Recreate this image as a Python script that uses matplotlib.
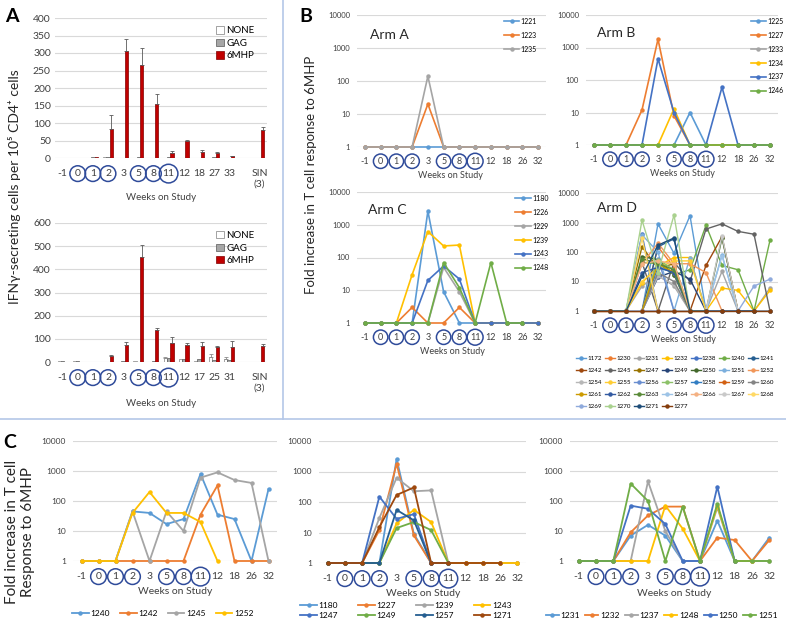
import numpy as np
import matplotlib
matplotlib.use("Agg")
import matplotlib.pyplot as plt
from matplotlib.lines import Line2D
from matplotlib.ticker import NullLocator

plt.rcParams['font.family'] = ['Lato', 'DejaVu Sans']

n = np.nan

# ---- panel A: IFN-gamma ELISpot bars ----
a_top_weeks = ['-1', '0', '1', '2', '3', '5', '8', '11', '12', '18', '27', '33', 'SIN\n(3)']
a_top_none = [1, 0.5, 1, 2, 1, 1, 1, 1, 1, 1, 1, 1, 0]
a_top_gag = [1, 0.5, 2, 3, 1, 2, 1, 2, 1, 1, 2, 1, 1]
a_top_6mhp = [1, 1, 3, 84, 305, 265, 153, 13, 48, 18, 13, 5, 81]
a_top_err = [0, 0, 0, 38, 35, 48, 31, 7, 4, 6, 3, 1, 9]

a_bot_weeks = ['-1', '0', '1', '2', '3', '5', '8', '11', '12', '17', '25', '31', 'SIN\n(3)']
a_bot_none = [3, 5, 2, 1, 2, 5, 1, 18, 13, 4, 20, 15, 0]
a_bot_none_err = [0, 0, 0, 0, 0, 0, 0, 5, 0, 0, 15, 5, 0]
a_bot_gag = [3, 4, 2, 2, 3, 1, 3, 17, 12, 12, 10, 10, 2]
a_bot_6mhp = [1, 1, 1, 25, 73, 453, 137, 83, 73, 70, 65, 65, 68]
a_bot_err = [0, 0, 0, 5, 12, 54, 10, 25, 8, 18, 5, 25, 10]

# ---- panels B/C: fold increase per patient ----
weeks = ['-1', '0', '1', '2', '3', '5', '8', '11', '12', '18', '26', '32']
circled = ['0', '1', '2', '5', '8', '11']

arm_a = {
    '1221': [1, 1, 1, 1, 1, 1, 1, 1, 1, 1, 1, 1],
    '1223': [1, 1, 1, 1, 20, 1, 1, 1, 1, 1, 1, 1],
    '1235': [1, 1, 1, 1, 140, 1, 1, 1, 1, 1, 1, 1],
}
arm_b = {
    '1225': [1, 1, 1, 1, 1, 1, 10, 1, 1, 1, 1, 1],
    '1227': [1, 1, 1, 12, 1800, 8, 1, 1, 1, 1, 1, 1],
    '1233': [1, 1, 1, 1, 1, 1, 1, 1, 1, 1, 1, 1],
    '1234': [1, 1, 1, 1, 1, 13, 1, 1, 1, 1, 1, 1],
    '1237': [1, 1, 1, 1, 450, 10, 1, 1, 60, 1, 1, 1],
    '1246': [1, 1, 1, 1, 1, 1, 1, 1, 1, 1, 1, 1],
}
arm_c = {
    '1180': [1, 1, 1, 1, 2600, 9, 1, 1, 1, 1, 1, 1],
    '1226': [1, 1, 1, 3, 1, 1, 3, 1, 1, 1, 1, 1],
    '1229': [1, 1, 1, 1, 1, 50, 9, 1, 1, 1, 1, 1],
    '1239': [1, 1, 1, 30, 620, 225, 240, 1, 1, 1, 1, 1],
    '1243': [1, 1, 1, 1, 20, 55, 22, 1, 1, 1, 1, 1],
    '1248': [1, 1, 1, 1, 1, 70, 12, 1, 70, 1, 1, n],
}
arm_d = {
    '1172': [1, 1, 1, 1, 900, 90, 1700, 1, n, n, n, n],
    '1230': [1, 1, 1, 1, 150, 30, 1, 1, n, n, n, n],
    '1231': [1, 1, 1, 7, 16, 7, 1, 1, 22, 1, 1, 6],
    '1232': [1, 1, 1, 9, 33, 65, 65, 1, 6, 5, 1, 5],
    '1238': [1, 1, 1, 400, 1, 1, 1, 1, n, n, n, n],
    '1240': [1, 1, 1, 45, 40, 17, 25, 800, 35, 25, 1, 250],
    '1241': [1, 1, 1, 1, 150, 280, 1, 1, n, n, n, n],
    '1242': [1, 1, 1, 1, 1, 1, 1, 35, 330, 1, 1, 1],
    '1245': [1, 1, 1, 45, 1, 45, 10, 600, 900, 500, 400, 1],
    '1247': [1, 1, 1, 150, 28, 40, 1, 1, n, n, n, n],
    '1249': [1, 1, 1, 1, 14, 22, 12, 1, n, n, n, n],
    '1250': [1, 1, 1, 70, 55, 17, 1, 1, 300, 1, n, n],
    '1251': [1, 1, 1, 380, 100, 1, 65, 1, 80, 1, 1, 1],
    '1252': [1, 1, 1, 40, 200, 40, 40, 20, 1, n, n, n],
    '1254': [1, 1, 1, 1, 15, 8, 1, 1, n, n, n, n],
    '1255': [1, 1, 1, 10, 30, 50, 50, 1, n, n, n, n],
    '1256': [1, 1, 1, 1, 60, 1, 1, 1, n, n, n, n],
    '1257': [1, 1, 1, 1, 55, 25, 1, 1, n, n, n, n],
    '1258': [1, 1, 1, 1, 30, 20, 1, 1, n, n, n, n],
    '1259': [1, 1, 1, 1, 1, 1, 1, 1, n, n, n, n],
    '1260': [1, 1, 1, 1, 20, 10, 1, 1, n, n, n, n],
    '1261': [1, 1, 1, 1, 40, 20, 1, 1, n, n, n, n],
    '1262': [1, 1, 1, 20, 30, 20, 1, 1, n, n, n, n],
    '1263': [1, 1, 1, 60, 40, 25, 1, 1, n, n, n, n],
    '1264': [1, 1, 1, 1, 1, 1, 1, 1, 75, 1, n, n],
    '1266': [1, 1, 1, 40, 50, 40, 1, 1, n, n, n, n],
    '1267': [1, 1, 1, 1, 1, 1, 1, 1, 360, 1, n, n],
    '1268': [1, 1, 1, 300, 1, 1, 1, 1, n, n, n, n],
    '1269': [1, 1, 1, 1, 1, 1, 1, 1, 1, 1, 7, 12],
    '1270': [1, 1, 1, 1200, 20, 1800, 1, 1, n, n, n, n],
    '1271': [1, 1, 1, 15, 170, 300, 1, 1, 1, 1, 1, n],
    '1277': [1, 1, 1, 1, 1, 1, 1, 1, 1, 1, 1, 1],
}
c1_ids = ['1240', '1242', '1245', '1252']
c2_ids = ['1180', '1227', '1239', '1243', '1247', '1249', '1257', '1271']
c3_ids = ['1231', '1232', '1237', '1248', '1250', '1251']

excel = ['#5B9BD5', '#ED7D31', '#A5A5A5', '#FFC000', '#4472C4', '#70AD47',
         '#255E91', '#9E480E', '#636363', '#997300', '#264478', '#43682B',
         '#7CAFDD', '#F1975A', '#B7B7B7', '#FFCD33', '#698ED0', '#8CC168',
         '#327DC2', '#D26012', '#848484', '#CC9A00', '#335AA1', '#5A8A39',
         '#9DC3E6', '#F4B183', '#C9C9C9', '#FFD966', '#8FAADC', '#A9D18E',
         '#1F4E79', '#843C0C']

W, H = 786, 627
GRID = '#d9d9d9'
RING = '#2f4b9a'


def box(x0, y0, x1, y1):
    return [x0 / W, 1 - y1 / H, (x1 - x0) / W, (y1 - y0) / H]


def ftext(x, y, s, **kw):
    fig.text(x / W, 1 - y / H, s, **kw)


def ring_labels(ax, pad):
    for t in ax.get_xticklabels():
        if t.get_text() in circled:
            t.set_bbox(dict(boxstyle='circle,pad=%s' % pad, fc='none', ec=RING, lw=1.1))


def clean(ax):
    for s in ax.spines.values():
        s.set_visible(False)
    ax.tick_params(length=0)
    ax.grid(axis='y', color=GRID, lw=0.8)
    ax.set_axisbelow(True)


def bar_panel(ax, labels, none, gag, mhp, err, none_err, ymax, step):
    pos = np.array(list(range(12)) + [13])
    w = 0.22
    b1 = ax.bar(pos - w, none, w, color='white', edgecolor='#7f7f7f', lw=0.5)
    b2 = ax.bar(pos, gag, w, color='#a6a6a6', edgecolor='#595959', lw=0.5)
    b3 = ax.bar(pos + w, mhp, w, color='#c00000', edgecolor='#7f0000', lw=0.5)
    err = np.array(err)
    m = err > 0
    ax.errorbar((pos + w)[m], np.array(mhp)[m], yerr=[np.zeros(m.sum()), err[m]],
                fmt='none', ecolor='#595959', elinewidth=0.6, capsize=1.5, capthick=0.6)
    if none_err is not None:
        ne = np.array(none_err)
        m = ne > 0
        ax.errorbar((pos - w)[m], np.array(none)[m], yerr=[np.zeros(m.sum()), ne[m]],
                    fmt='none', ecolor='#8c8c8c', elinewidth=0.6, capsize=1.5, capthick=0.6)
    ax.set_xlim(-0.5, 13.5)
    ax.set_ylim(0, ymax)
    ax.set_yticks(np.arange(0, ymax + 1, step))
    ax.tick_params(axis='y', labelsize=7.5, colors='#404040', pad=3)
    ax.set_xticks(pos)
    ax.set_xticklabels(labels, fontsize=7.5, color='#404040')
    ax.tick_params(axis='x', pad=8)
    clean(ax)
    ring_labels(ax, 0.32)
    ax.legend([b1, b2, b3], ['NONE', 'GAG', '6MHP'], loc='upper left',
              bbox_to_anchor=(0.74, 0.97), frameon=False, fontsize=7,
              handlelength=0.8, handleheight=0.8, handletextpad=0.3,
              labelspacing=0.35, borderaxespad=0)


def line_panel(ax, ids, data, colors, ysize, xsize, pad, lw=1.2, ring=0.3):
    x = np.arange(len(weeks))
    for pid, c in zip(ids, colors):
        ax.plot(x, data[pid], color=c, lw=lw, marker='o', ms=2.2,
                label=pid, clip_on=False)
    ax.set_yscale('log')
    ax.set_ylim(1, 10000)
    ax.set_xlim(-0.5, len(weeks) - 0.5)
    ax.set_yticks([1, 10, 100, 1000, 10000])
    ax.set_yticklabels(['1', '10', '100', '1000', '10000'])
    ax.yaxis.set_minor_locator(NullLocator())
    ax.tick_params(axis='y', labelsize=ysize, colors='#404040', pad=5)
    ax.set_xticks(x)
    ax.set_xticklabels(weeks, fontsize=xsize, color='#404040')
    ax.tick_params(axis='x', pad=pad)
    clean(ax)
    ring_labels(ax, ring)


fig = plt.figure(figsize=(W / 100, H / 100), dpi=100)

# panel A
ax = fig.add_axes(box(55, 18, 267, 158))
bar_panel(ax, a_top_weeks, a_top_none, a_top_gag, a_top_6mhp, a_top_err, None, 400, 50)
ax = fig.add_axes(box(55, 223, 267, 362))
bar_panel(ax, a_bot_weeks, a_bot_none, a_bot_gag, a_bot_6mhp, a_bot_err, a_bot_none_err, 600, 100)
ftext(161, 198, 'Weeks on Study', fontsize=7, ha='center', va='center', color='#404040')
ftext(161, 404, 'Weeks on Study', fontsize=7, ha='center', va='center', color='#404040')
ftext(15, 187, 'IFNγ-secreting cells per 10⁵ CD4⁺ cells', fontsize=10, rotation=90,
      ha='center', va='center', color='#262626')

# panel B
arms = [
    (arm_a, 'Arm A', box(357, 15, 546, 147), (370, 35), (450, 176), 0.77),
    (arm_b, 'Arm B', box(586, 15, 778, 145), (597, 33), (682, 173), 0.85),
    (arm_c, 'Arm C', box(357, 192, 546, 323), (368, 210), (452, 351), 0.83),
]
for data, title, rect, tpos, xlpos, lx in arms:
    ax = fig.add_axes(rect)
    ids = list(data.keys())
    line_panel(ax, ids, data, excel[:len(ids)], 5.5, 6.5, 7)
    ax.legend(loc='upper left', bbox_to_anchor=(lx, 0.99), fontsize=5, frameon=False,
              handlelength=2.2, handletextpad=0.2, labelspacing=1.0, borderaxespad=0,
              borderpad=0.2)
    ftext(tpos[0], tpos[1], title, fontsize=10, ha='left', va='center', color='#262626')
    ftext(xlpos[0], xlpos[1], 'Weeks on Study', fontsize=6.5, ha='center', va='center',
          color='#404040')

ax = fig.add_axes(box(586, 193, 778, 311))
ids = list(arm_d.keys())
line_panel(ax, ids, arm_d, excel[:len(ids)], 5.5, 6.5, 7, lw=1.0)
h, l = ax.get_legend_handles_labels()
order = [r * 7 + c for c in range(7) for r in range(5) if r * 7 + c < len(h)]
ax.legend([h[i] for i in order], [l[i] for i in order], ncol=7, loc='upper left',
          bbox_to_anchor=(-0.05, -0.38), fontsize=4.5, frameon=False,
          handlelength=1.6, handletextpad=0.2, columnspacing=0.45,
          labelspacing=1.05, borderaxespad=0, borderpad=0)
ftext(597, 208, 'Arm D', fontsize=10, ha='left', va='center', color='#262626')
ftext(683, 339, 'Weeks on Study', fontsize=6.5, ha='center', va='center', color='#404040')
ftext(311, 175, 'Fold increase in T cell response to 6MHP', fontsize=9.5, rotation=90,
      ha='center', va='center', color='#262626')

# panel C
c_panels = [
    (c1_ids, box(73, 441, 277, 561), (175, 592), (0.44, -0.44), 4, 1.2, 2.0),
    (c2_ids, box(319, 441, 526, 563), (423, 594), (0.42, -0.39), 4, 2.4, 2.0),
    (c3_ids, box(570, 441, 778, 561), (674, 593), (0.44, -0.45), 6, 0.6, 1.6),
]
for ids, rect, xlpos, lpos, ncol, cs, hl in c_panels:
    ax = fig.add_axes(rect)
    data = {**arm_b, **arm_c, **arm_d}
    line_panel(ax, ids, data, excel[:len(ids)], 6, 7.5, 8, lw=1.3, ring=0.32)
    h, l = ax.get_legend_handles_labels()
    rows = int(np.ceil(len(h) / ncol))
    order = [r * ncol + c for c in range(ncol) for r in range(rows) if r * ncol + c < len(h)]
    ax.legend([h[i] for i in order], [l[i] for i in order], ncol=ncol, loc='center',
              bbox_to_anchor=lpos, fontsize=6, frameon=False, handlelength=hl,
              handletextpad=0.2, columnspacing=cs, labelspacing=0.3, borderaxespad=0)
    ftext(xlpos[0], xlpos[1], 'Weeks on Study', fontsize=7.5, ha='center', va='center',
          color='#404040')
ftext(20, 532, 'Fold increase in T cell\nResponse to 6MHP', fontsize=11, rotation=90,
      ha='center', va='center', color='#262626', linespacing=1.1)

# panel letters and dividers
ftext(12, 16, 'A', fontsize=14, fontweight='bold', ha='center', va='center')
ftext(306, 16, 'B', fontsize=14, fontweight='bold', ha='center', va='center')
ftext(10, 442, 'C', fontsize=14, fontweight='bold', ha='center', va='center')
fig.add_artist(Line2D([283 / W, 283 / W], [1, 1 - 419 / H], color='#b4c7e7', lw=1.2))
fig.add_artist(Line2D([0, 1], [1 - 419 / H, 1 - 419 / H], color='#b4c7e7', lw=1.2))

fig.savefig('out.png', dpi=100)
